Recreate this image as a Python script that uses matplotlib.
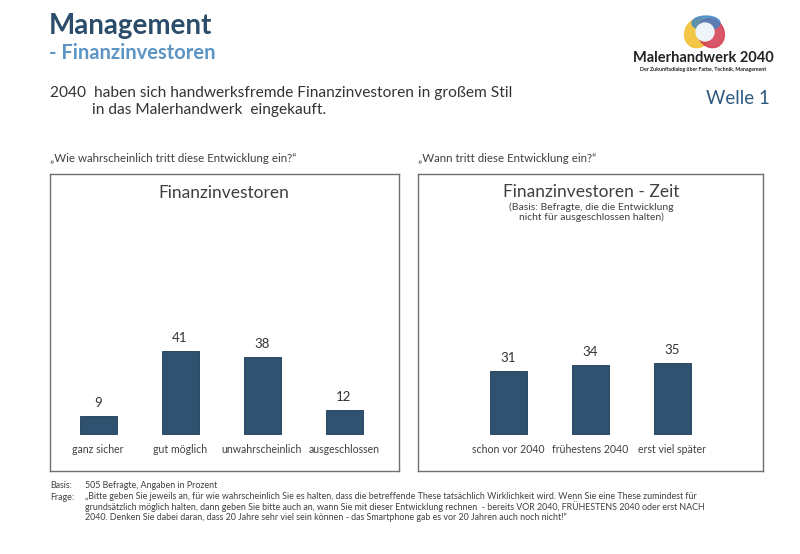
import matplotlib
matplotlib.use("Agg")
import matplotlib.pyplot as plt
from matplotlib.patches import Ellipse

plt.rcParams['font.family'] = ['Lato', 'DejaVu Sans']

# ---- data ----
cats_left = ["ganz sicher", "gut möglich", "unwahrscheinlich", "ausgeschlossen"]
vals_left = [9, 41, 38, 12]
cats_right = ["schon vor 2040", "frühestens 2040", "erst viel später"]
vals_right = [31, 34, 35]

BAR = "#2E5270"
DARK = "#2B4C6A"
LIGHT = "#5C95C3"
TXT = "#404040"

W, H = 800, 554
fig = plt.figure(figsize=(8, 5.54), dpi=100)
fig.patch.set_facecolor("white")

def fx(px):
    return px / W

def fy(py):
    return 1 - py / H

# ---- header ----
fig.text(fx(49), fy(26), "Management", fontsize=20, fontweight="bold", color=DARK, va="center", ha="left")
fig.text(fx(49), fy(53), "- Finanzinvestoren", fontsize=14.5, fontweight="bold", color=LIGHT, va="center", ha="left")
fig.text(fx(50), fy(93), "2040  haben sich handwerksfremde Finanzinvestoren in großem Stil",
         fontsize=11.2, color="#333333", va="center", ha="left")
fig.text(fx(92), fy(110), "in das Malerhandwerk  eingekauft.", fontsize=11.2, color="#333333", va="center", ha="left")
fig.text(fx(770), fy(99), "Welle 1", fontsize=13.5, color="#2F5A80", va="center", ha="right")

# ---- logo ----
lax = fig.add_axes([fx(620), fy(80), fx(160), 80 / H])
lax.set_xlim(0, 160)
lax.set_ylim(0, 80)
lax.axis("off")
lax.add_patch(Ellipse((78, 47), 26, 30, angle=-25, color="#F3C33E", alpha=0.95))
lax.add_patch(Ellipse((91, 47), 26, 30, angle=25, color="#D23A4E", alpha=0.85))
lax.add_patch(Ellipse((86, 57), 28, 14, angle=0, color="#3D86C6", alpha=0.8))
lax.add_patch(Ellipse((85, 48), 18, 18, angle=0, color="#EEF4F9", alpha=1))
fig.text(fx(703), fy(58), "Malerhandwerk 2040", fontsize=10.5, fontweight="bold", color="#222222",
         ha="center", va="center")
fig.text(fx(703), fy(69.5), "Der Zukunftsdialog über Farbe, Technik, Management", fontsize=3.8,
         fontweight="bold", color="#222222", ha="center", va="center")

# ---- questions ----
fig.text(fx(50), fy(158), "„Wie wahrscheinlich tritt diese Entwicklung ein?“", fontsize=8.3, color=TXT, va="center")
fig.text(fx(418), fy(158), "„Wann tritt diese Entwicklung ein?“", fontsize=8.3, color=TXT, va="center")

PXU = 2.02  # px per percent

def make_panel(left_px, right_px, top_px, bottom_px, base_px, first_center_px, spacing_px, cats, vals):
    w = right_px - left_px
    h = bottom_px - top_px
    ax = fig.add_axes([fx(left_px), fy(bottom_px), fx(w), h / H])
    below = bottom_px - base_px
    ax.set_ylim(-below / PXU, (h - below) / PXU)
    rel = first_center_px - left_px
    ax.set_xlim(-rel / spacing_px, (w - rel) / spacing_px)
    x = list(range(len(cats)))
    bars = ax.bar(x, vals, width=37 / spacing_px, color=BAR, edgecolor="#1F3A50", linewidth=0.6)
    for b, v in zip(bars, vals):
        ax.annotate(str(v), (b.get_x() + b.get_width() / 2, b.get_height()), xytext=(0, 5),
                    textcoords="offset points", ha="center", va="bottom", fontsize=9.5, color="#333333")
    for xi, c in zip(x, cats):
        ax.annotate(c, (xi, 0), xytext=(0, -11.5), textcoords="offset points",
                    ha="center", va="center", fontsize=7.6, color=TXT)
    ax.set_xticks([])
    ax.set_yticks([])
    for s in ax.spines.values():
        s.set_color("#707070")
        s.set_linewidth(1.0)
    return ax

axl = make_panel(50, 399, 174, 471, 434, 98, 82, cats_left, vals_left)
axr = make_panel(418, 763, 174, 471, 434, 508, 82, cats_right, vals_right)

fig.text(fx(224), fy(193), "Finanzinvestoren", fontsize=12.5, color="#404040", ha="center", va="center")
fig.text(fx(591), fy(192), "Finanzinvestoren - Zeit", fontsize=12.5, color="#404040", ha="center", va="center")
fig.text(fx(591), fy(212), "(Basis: Befragte, die die Entwicklung\nnicht für ausgeschlossen halten)",
         fontsize=7.5, color="#404040", ha="center", va="center", linespacing=1.0)

# ---- footer ----
FS = 6.4
fig.text(fx(50), fy(485), "Basis:", fontsize=FS, color=TXT, va="center")
fig.text(fx(85), fy(485), "505 Befragte, Angaben in Prozent", fontsize=FS, color=TXT, va="center")
fig.text(fx(50), fy(497), "Frage:", fontsize=FS, color=TXT, va="center")
frage = ("„Bitte geben Sie jeweils an, für wie wahrscheinlich Sie es halten, dass die betreffende These tatsächlich Wirklichkeit wird. Wenn Sie eine These zumindest für\n"
         "grundsätzlich möglich halten, dann geben Sie bitte auch an, wann Sie mit dieser Entwicklung rechnen  - bereits VOR 2040, FRÜHESTENS 2040 oder erst NACH\n"
         "2040. Denken Sie dabei daran, dass 20 Jahre sehr viel sein können - das Smartphone gab es vor 20 Jahren auch noch nicht!“")
fig.text(fx(85), fy(492), frage, fontsize=FS, color=TXT, va="top", linespacing=1.05)

fig.savefig("out.png", dpi=100)
